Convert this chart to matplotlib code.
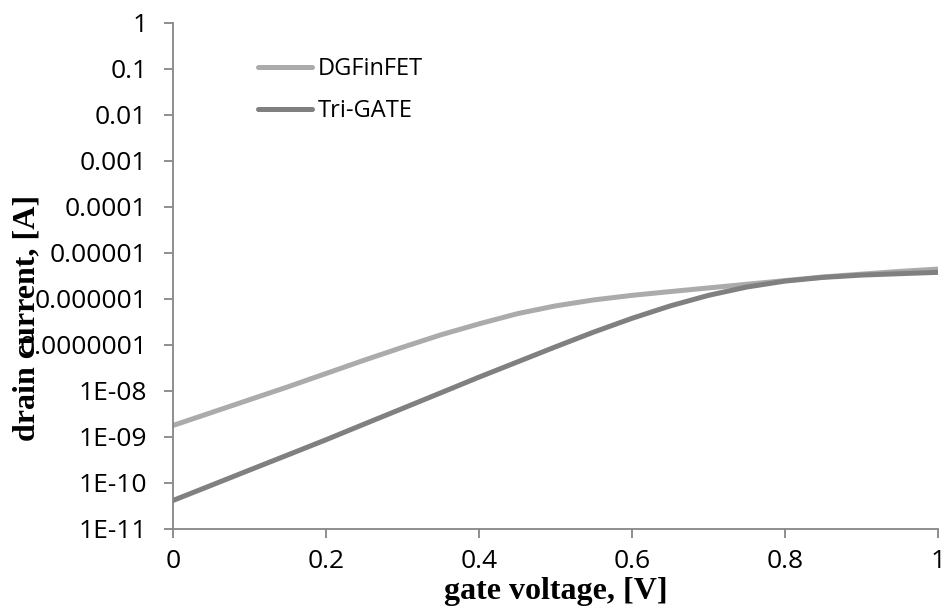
import matplotlib
matplotlib.use("Agg")
import matplotlib.pyplot as plt

# gate voltage, V
vg = [0.00, 0.05, 0.10, 0.15, 0.20, 0.25, 0.30, 0.35, 0.40, 0.45, 0.50,
      0.55, 0.60, 0.65, 0.70, 0.75, 0.80, 0.85, 0.90, 0.95, 1.00]

# drain current, A
id_dgfinfet = [1.78e-9, 3.39e-9, 6.46e-9, 1.23e-8, 2.40e-8, 4.68e-8, 8.91e-8,
               1.66e-7, 2.88e-7, 4.79e-7, 7.08e-7, 9.55e-7, 1.20e-6, 1.45e-6,
               1.74e-6, 2.09e-6, 2.51e-6, 3.02e-6, 3.47e-6, 3.98e-6, 4.47e-6]
id_trigate = [4.17e-11, 8.91e-11, 1.91e-10, 4.07e-10, 8.71e-10, 1.91e-9,
              4.17e-9, 9.12e-9, 2.00e-8, 4.27e-8, 9.12e-8, 1.91e-7, 3.80e-7,
              7.08e-7, 1.20e-6, 1.82e-6, 2.45e-6, 2.95e-6, 3.31e-6, 3.55e-6,
              3.80e-6]

series_names = ["DGFinFET", "Tri-GATE"]

xticks = [0, 0.2, 0.4, 0.6, 0.8, 1]
xticklabels = ["0", "0.2", "0.4", "0.6", "0.8", "1"]
yticks = [1, 1e-1, 1e-2, 1e-3, 1e-4, 1e-5, 1e-6, 1e-7, 1e-8, 1e-9, 1e-10, 1e-11]
yticklabels = ["1", "0.1", "0.01", "0.001", "0.0001", "0.00001", "0.000001",
               "0.0000001", "1E-08", "1E-09", "1E-10", "1E-11"]

plt.rcParams["font.family"] = ["Open Sans", "DejaVu Sans"]
axis_grey = "#868686"

fig = plt.figure(figsize=(9.46, 6.07), dpi=100)
ax = fig.add_axes([173 / 946, 1 - 529 / 607, 765 / 946, 506 / 607])

ax.plot(vg, id_dgfinfet, color="#ABABAB", lw=3.6, solid_capstyle="round",
        solid_joinstyle="round", label=series_names[0])
ax.plot(vg, id_trigate, color="#808080", lw=3.6, solid_capstyle="round",
        solid_joinstyle="round", label=series_names[1])

ax.set_yscale("log")
ax.set_xlim(0, 1)
ax.set_ylim(1e-11, 1)
ax.set_xticks(xticks)
ax.set_xticklabels(xticklabels)
ax.set_yticks(yticks)
ax.set_yticklabels(yticklabels)
ax.minorticks_off()

for side in ["top", "right"]:
    ax.spines[side].set_visible(False)
for side in ["left", "bottom"]:
    ax.spines[side].set_color(axis_grey)
    ax.spines[side].set_linewidth(1.3)

ax.tick_params(axis="both", direction="out", length=6.5, width=1.3,
               color=axis_grey, labelsize=19, labelcolor="black")
ax.tick_params(axis="y", pad=12)
ax.tick_params(axis="x", pad=8)

ax.legend(loc="upper left", bbox_to_anchor=(0.111, 0.932), frameon=False,
          fontsize=17, handlelength=2.3, handletextpad=0.25,
          labelspacing=0.75, borderpad=0, borderaxespad=0)

fig.text(556 / 946, 1 - 592 / 607, "gate voltage, [V]", ha="center",
         va="center", fontsize=23, fontweight="bold",
         family="Liberation Serif")
fig.text(27 / 946, 1 - 318 / 607, "drain current, [A]", ha="center",
         va="center", rotation=90, fontsize=23, fontweight="bold",
         family="Liberation Serif")

fig.savefig("out.png", dpi=100)
